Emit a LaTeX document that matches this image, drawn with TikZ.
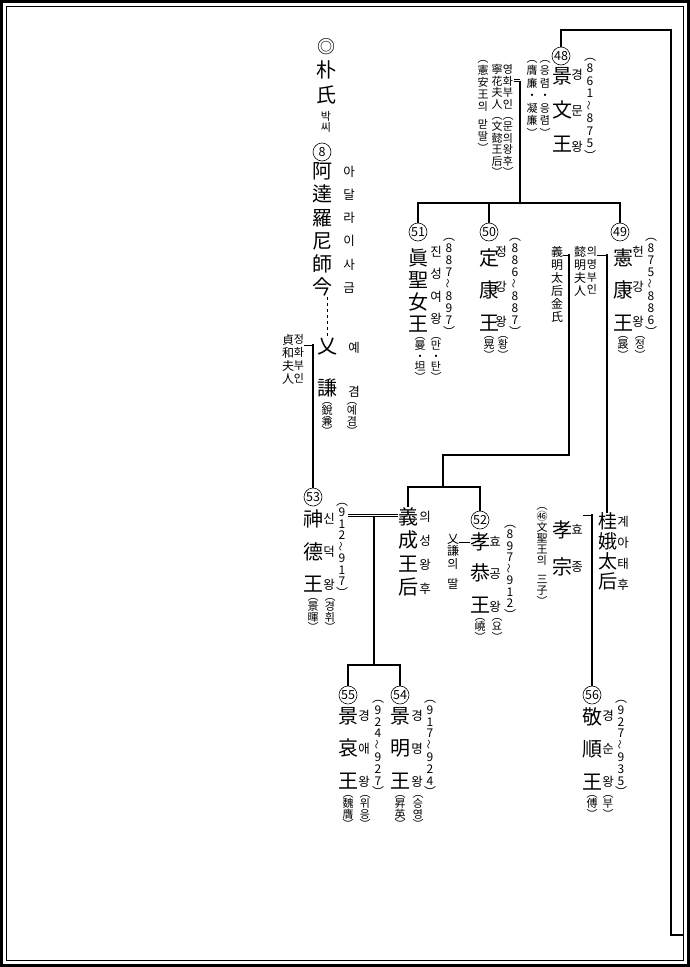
\documentclass[tikz,border=0pt]{standalone}
\usepackage{fontspec}
\setmainfont{Noto Sans CJK KR}
\newcommand{\vtil}{\rotatebox{90}{\scalebox{.8}{～}}}
\newcommand{\yrs}[6]{︵\\#1\\#2\\#3\\\vtil\\#4\\#5\\#6\\︶}

\begin{document}
\begin{tikzpicture}[x=1pt, y=-1pt,
   vcol/.style={inner sep=0pt, align=center, anchor=north,
      execute at begin node={\rule{0pt}{.88em}}},
   big/.style={vcol, font=\fontsize{20}{#1}\selectfont}, big/.default=32.5,
   rd/.style={vcol, font=\fontsize{12.5}{#1}\selectfont}, rd/.default=33,
   pn/.style={vcol, font=\fontsize{11}{#1}\selectfont}, pn/.default=10.5,
   yr/.style={vcol, font=\fontsize{11}{#1}\selectfont}, yr/.default=11.5,
   dt/.style={vcol, font=\fontsize{12}{#1}\selectfont}, dt/.default=12,
   sp/.style={vcol, font=\fontsize{12}{#1}\selectfont}, sp/.default=13,
   num/.style={circle, draw, line width=.6pt, inner sep=0pt, minimum size=18pt,
      font=\fontsize{12.5}{12.5}\selectfont},
   wed/.style={double, double distance=1.8pt, line width=.6pt},
   kin/.style={line width=1.1pt}]
\useasboundingbox (0,0) rectangle (690,967);
\draw[line width=3pt] (1.5,1.5) rectangle (688.5,965.5);
\draw[line width=.8pt] (6.5,6.5) rectangle (683.5,960.5);

% Park line
\node[font=\fontsize{18}{18}\selectfont] (mark) at (326,47) {◎};
\node[big=25] (park) at (326,60) {朴\\氏};
\node[pn=11] (parkH) at (326,111.5) {박\\씨};
\node[num] (n8) at (322,152) {8};
\node[big=23.2] (adalla) at (322,162.5) {阿\\達\\羅\\尼\\師\\今};
\node[rd=23.2] (adallaH) at (349,165.75) {아\\달\\라\\이\\사\\금};
\node[big=42] (ye) at (327,338) {乂\\謙};
\node[rd=44] (yeH) at (354,341.75) {예\\겸};
\node[pn] (yeP) at (327,402) {︵\\銳\\兼\\︶};
\node[pn] (yeHP) at (352,402) {︵\\예\\겸\\︶};
\node[sp] (jeonghwa) at (288,334) {貞\\和\\夫\\人};
\node[yr=13] (jeonghwaH) at (299,334.5) {정\\화\\부\\인};

% 48
\node[num] (n48) at (561,56) {48};
\node[big=34] (gyeongmun) at (562,67) {景\\文\\王};
\node[rd=36] (gyeongmunH) at (577,68.75) {경\\문\\왕};
\node[dt=12.5] (gyeongmunD) at (590,58) {\yrs861875};
\node[yr=12.5] (eungryeom) at (545,60) {︵\\응\\렴\\・\\응\\렴\\︶};
\node[yr=12.5] (eungryeomC) at (532,60) {︵\\膺\\廉\\・\\凝\\廉\\︶};
\node[yr=11.4] (yeonghwa) at (508,64.5) {영\\화\\부\\인\\︵\\문\\의\\왕\\후\\︶};
\node[yr=11.4] (yeonghwaC) at (497,64.5) {寧\\花\\夫\\人\\︵\\文\\懿\\王\\后\\︶};
\node[yr=12] (heonan) at (483,60) {︵\\憲\\安\\王\\의\\[6pt]맏\\딸\\︶};

% 51 50 49
\node[num] (n51) at (418,232) {51};
\node[big=22] (jinseong) at (418,248) {眞\\聖\\女\\王};
\node[rd=22.5] (jinseongH) at (436,245.75) {진\\성\\여\\왕};
\node[dt] (jinseongD) at (449,238) {\yrs887897};
\node[pn=10.5] (jinseongP) at (420,337) {︵\\曼\\・\\坦\\︶};
\node[pn=10.5] (jinseongHP) at (436,337) {︵\\만\\・\\탄\\︶};

\node[num] (n50) at (489,232) {50};
\node[big] (jeonggang) at (489,248) {定\\康\\王};
\node[rd=35] (jeonggangH) at (501,245.75) {정\\강\\왕};
\node[dt] (jeonggangD) at (515,238) {\yrs886887};
\node[pn] (jeonggangP) at (489,336) {︵\\晃\\︶};
\node[pn] (jeonggangHP) at (503,336) {︵\\황\\︶};

\node[num] (n49) at (620,232) {49};
\node[big] (heongang) at (623,248) {憲\\康\\王};
\node[rd=35] (heongangH) at (638,245.75) {헌\\강\\왕};
\node[dt] (heongangD) at (651,238) {\yrs875886};
\node[pn] (heongangP) at (623,336) {︵\\晸\\︶};
\node[pn] (heongangHP) at (640,336) {︵\\정\\︶};

\node[sp] (uimyeongT) at (557,246) {義\\明\\太\\后\\金\\氏};
\node[sp] (uimyeong) at (580,246) {懿\\明\\夫\\人};
\node[yr=12.7] (uimyeongH) at (592,246.5) {의\\명\\부\\인};

% 53 52
\node[num] (n53) at (313,497) {53};
\node[big] (sindeok) at (313,510) {神\\德\\王};
\node[rd] (sindeokH) at (329,512.75) {신\\덕\\왕};
\node[dt=11.5] (sindeokD) at (342,503) {\yrs912917};
\node[pn] (sindeokP) at (313,598) {︵\\景\\暉\\︶};
\node[pn] (sindeokHP) at (330,598) {︵\\경\\휘\\︶};
\node[big=23.5] (uiseong) at (408,507) {義\\成\\王\\后};
\node[rd=24] (uiseongH) at (425,510.75) {의\\성\\왕\\후};

\node[num] (n52) at (480,520) {52};
\node[big=31.5] (hyogong) at (480,532) {孝\\恭\\王};
\node[rd=32.5] (hyogongH) at (495,535.75) {효\\공\\왕};
\node[dt=11.5] (hyogongD) at (510,525) {\yrs897912};
\node[pn] (hyogongP) at (480,618) {︵\\嶢\\︶};
\node[pn] (hyogongHP) at (497,618) {︵\\요\\︶};
\node[sp=12.5] (yegyeom) at (453,534) {乂\\謙\\의\\[8pt]딸};

\node[big=37] (hyojong) at (562,520) {孝\\宗};
\node[rd=37] (hyojongH) at (577,523.75) {효\\종};
\node[yr=11] (hyojongP) at (542,507.5) {︵\\㊻\\文\\聖\\王\\의\\[8pt]三\\子\\︶};
\node[vcol, font=\fontsize{19}{20}\selectfont] (gyea) at (608,512.5) {桂\\娥\\太\\后};
\node[rd=21] (gyeaH) at (623,515.75) {계\\아\\태\\후};

% 55 54 56
\node[num] (n55) at (348,695) {55};
\node[big] (gyeongae) at (348,707) {景\\哀\\王};
\node[rd] (gyeongaeH) at (364,709.75) {경\\애\\왕};
\node[dt=11.8] (gyeongaeD) at (378,700) {\yrs924927};
\node[pn] (gyeongaeP) at (348,795) {︵\\魏\\膺\\︶};
\node[pn] (gyeongaeHP) at (365,795) {︵\\위\\응\\︶};

\node[num] (n54) at (400,695) {54};
\node[big] (gyeongmyeong) at (400,707) {景\\明\\王};
\node[rd] (gyeongmyeongH) at (417,709.75) {경\\명\\왕};
\node[dt=11.8] (gyeongmyeongD) at (430,700) {\yrs917924};
\node[pn] (gyeongmyeongP) at (400,795) {︵\\昇\\英\\︶};
\node[pn] (gyeongmyeongHP) at (418,795) {︵\\승\\영\\︶};

\node[num] (n56) at (592,695) {56};
\node[big] (gyeongsun) at (592,707) {敬\\順\\王};
\node[rd] (gyeongsunH) at (608,709.75) {경\\순\\왕};
\node[dt=11.8] (gyeongsunD) at (621,700) {\yrs927935};
\node[pn] (gyeongsunP) at (592,795) {︵\\傅\\︶};
\node[pn] (gyeongsunHP) at (608,795) {︵\\부\\︶};

% lines
\coordinate (top) at (671,30);
\coordinate (bot) at (671,935);
\coordinate (rim) at (683.5,935);
\draw[kin] (n48.north) |- (top) -- (bot) -- (rim);

\coordinate (v48) at (520,80.5);
\coordinate (k48) at (520,203);
\draw[wed] (yeonghwa.east |- v48) -- (v48);
\draw[kin] (v48) -- (k48);
\draw[kin] (n51.north) |- (k48) -| (n49.north);
\draw[kin] (n50.north) -- (n50.north |- k48);

\coordinate (v49a) at (569,254);
\coordinate (v49b) at (607,254);
\coordinate (k3) at (443,455);
\coordinate (k2) at (443,487);
\draw[wed] (uimyeongT.east |- v49a) -- (v49a);
\draw[wed] (uimyeongH.east |- v49b) -- (v49b);
\draw[kin] (v49b) -- (v49b |- gyea.north);
\draw[kin] (v49a) |- (k3) -- (k2);
\draw[kin] (uiseong.north) |- (k2) -| (n52.north);

\draw[dashed, line width=.7pt] (ye.north |- adalla.south) -- (ye.north);
\coordinate (j1) at (313,344);
\draw[wed] (jeonghwaH.east |- j1) -- (j1);
\draw[kin] (j1) -- (n53.north);

\coordinate (v53) at (374,515.5);
\coordinate (k53) at (374,665);
\draw[wed] (sindeokD.east |- v53) -- (uiseong.west |- v53);
\draw[kin] (v53) -- (k53);
\draw[kin] (n55.north) |- (k53) -| (n54.north);

\coordinate (v52) at (464,541);
\draw[wed] (yegyeom.east |- v52) -- (hyogong.west |- v52);

\coordinate (v56) at (592,514);
\draw[wed] (hyojongH.east |- v56) -- (v56);
\draw[kin] (v56) -- (n56.north);
\end{tikzpicture}
\end{document}
